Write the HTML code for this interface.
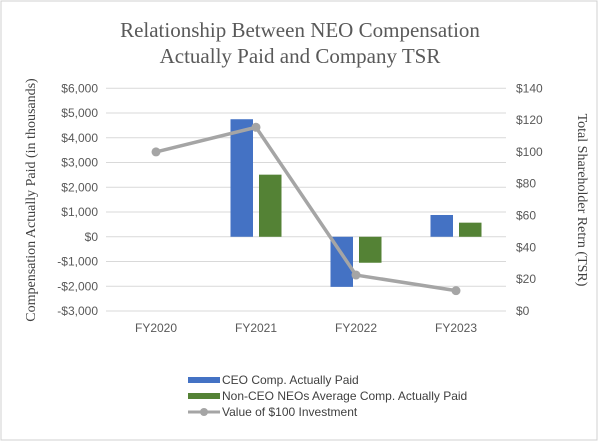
<!DOCTYPE html>
<html><head><meta charset="utf-8"><style>
html,body{margin:0;padding:0;background:#fff;}
svg{display:block;}
</style></head><body>
<svg id="chart" width="600" height="443" xmlns="http://www.w3.org/2000/svg">
<rect x="1" y="1" width="596" height="439" fill="#fff" stroke="#d0d0d0"/>
<text x="300" y="37" text-anchor="middle" font-family="Liberation Serif, serif" font-size="21" fill="#595959">Relationship Between NEO Compensation</text>
<text x="300" y="63" text-anchor="middle" font-family="Liberation Serif, serif" font-size="21" fill="#595959">Actually Paid and Company TSR</text>
<text transform="translate(35,200) rotate(-90)" text-anchor="middle" font-family="Liberation Serif, serif" font-size="14" fill="#404040">Compensation Actually Paid (in thousands)</text>
<text transform="translate(578,200) rotate(90)" text-anchor="middle" font-family="Liberation Serif, serif" font-size="14" fill="#404040">Total Shareholder Retrn (TSR)</text>
<g id="grid"></g><g id="bars"></g><g id="line"></g><g id="labels"></g>
<g font-family="Liberation Sans, sans-serif" font-size="12" fill="#404040">
<rect x="188" y="377" width="32" height="6" fill="#4472c4"/>
<text x="222" y="384">CEO Comp. Actually Paid</text>
<rect x="188" y="393" width="32" height="6" fill="#548235"/>
<text x="222" y="400">Non-CEO NEOs Average Comp. Actually Paid</text>
<line x1="188" y1="412" x2="220" y2="412" stroke="#a5a5a5" stroke-width="3"/>
<circle cx="204" cy="412" r="4" fill="#a5a5a5"/>
<text x="222" y="416">Value of $100 Investment</text>
</g>
</svg>
<script>
const categories = ["FY2020","FY2021","FY2022","FY2023"];
const ceoValues = [null, 4750, -2025, 880];
const neoValues = [null, 2510, -1050, 570];
const tsrValues = [100, 115.5, 22.6, 12.8];
const leftTicks = [6000,5000,4000,3000,2000,1000,0,-1000,-2000,-3000];
const rightTicks = [140,120,100,80,60,40,20,0];

const NS="http://www.w3.org/2000/svg";
const plotL=106, plotR=506, yTop=88.3, yBot=311;
const yL=v=>yTop+(6000-v)/9000*(yBot-yTop);
const yR=v=>yTop+(140-v)/140*(yBot-yTop);
const bw=(plotR-plotL)/categories.length;
const xC=i=>plotL+bw*(i+0.5);
function mk(tag,attrs,parent){const e=document.createElementNS(NS,tag);for(const k in attrs)e.setAttribute(k,attrs[k]);document.getElementById(parent).appendChild(e);return e;}
function fmt(v){const a=Math.abs(v).toLocaleString('en-US');return (v<0?'-$':'$')+a;}

leftTicks.forEach(t=>{
  const g=mk('line',{x1:plotL,x2:plotR,y1:yL(t),y2:yL(t),stroke:'#d9d9d9','stroke-width':1},'grid');
  
  
  const l=mk('text',{x:98,y:yL(t)+4,'text-anchor':'end','font-family':'Liberation Sans, sans-serif','font-size':12,fill:'#595959'},'labels');
  l.textContent=fmt(t);
  
  
});
rightTicks.forEach(t=>{
  const l=mk('text',{x:516,y:yR(t)+4,'font-family':'Liberation Sans, sans-serif','font-size':12,fill:'#595959'},'labels');
  l.textContent='$'+t;
  
  
});
categories.forEach((c,i)=>{
  const l=mk('text',{x:xC(i),y:332,'text-anchor':'middle','font-family':'Liberation Sans, sans-serif','font-size':12,fill:'#595959'},'labels');
  l.textContent=c;
  
  
  const w=22.5,gap=6;
  [[ceoValues[i],'#4472c4',xC(i)-gap/2-w,'bar-ceo'],[neoValues[i],'#548235',xC(i)+gap/2,'bar-neo']].forEach(([v,col,x,nm])=>{
    if(v==null)return;
    const y0=yL(0),y1=yL(v);
    const r=mk('rect',{x:x,y:Math.min(y0,y1),width:w,height:Math.abs(y1-y0),fill:col},'bars');
    
    
  });
});
const pts=tsrValues.map((v,i)=>xC(i)+','+yR(v)).join(' ');
const pl=mk('polyline',{points:pts,fill:'none',stroke:'#a5a5a5','stroke-width':3.5,'stroke-linejoin':'round'},'line');


tsrValues.forEach((v,i)=>{
  const c=mk('circle',{cx:xC(i),cy:yR(v),r:4.5,fill:'#a5a5a5'},'line');
  
  
});
</script>
</body></html>
